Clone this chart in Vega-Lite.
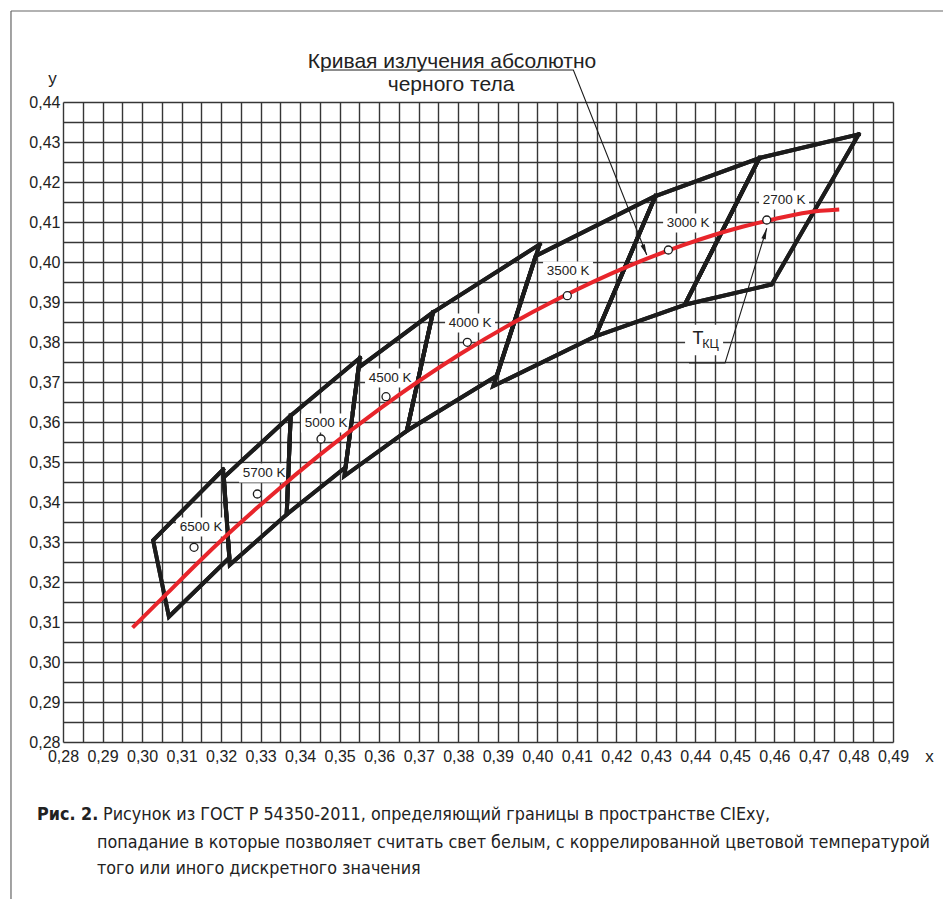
{
  "$schema": "https://vega.github.io/schema/vega-lite/v6.json",
  "width": 830,
  "height": 640,
  "autosize": {"type": "none"},
  "padding": {"left": 63, "top": 102, "right": 50, "bottom": 157},
  "background": "white",
  "config": {
    "view": {"stroke": null},
    "font": "Liberation Sans",
    "text": {"font": "Liberation Sans"},
    "axis": {"grid": true, "gridColor": "#363636", "gridWidth": 1.4, "gridOpacity": 1, "domain": false, "ticks": false,
      "labelFontSize": 16, "labelFont": "Liberation Sans", "labelColor": "#222", "labelOverlap": false, "labelFlush": false,
      "titleFont": "Liberation Sans", "titleFontSize": 17, "titleFontWeight": "normal", "titleColor": "#222"},
    "axisX": {"tickCount": 42, "labelPadding": 6},
    "axisY": {"tickCount": 32, "labelPadding": 3}
  },
  "datasets": {
    "quads": [
      {"quad": "2700", "i": 0, "x": 0.4813, "y": 0.4319}, {"quad": "2700", "i": 1, "x": 0.4562, "y": 0.4260}, {"quad": "2700", "i": 2, "x": 0.4373, "y": 0.3893}, {"quad": "2700", "i": 3, "x": 0.4593, "y": 0.3944}, {"quad": "2700", "i": 4, "x": 0.4813, "y": 0.4319},
      {"quad": "3000", "i": 0, "x": 0.4562, "y": 0.4260}, {"quad": "3000", "i": 1, "x": 0.4299, "y": 0.4165}, {"quad": "3000", "i": 2, "x": 0.4147, "y": 0.3814}, {"quad": "3000", "i": 3, "x": 0.4373, "y": 0.3893}, {"quad": "3000", "i": 4, "x": 0.4562, "y": 0.4260},
      {"quad": "3500", "i": 0, "x": 0.4299, "y": 0.4165}, {"quad": "3500", "i": 1, "x": 0.3996, "y": 0.4015}, {"quad": "3500", "i": 2, "x": 0.3889, "y": 0.3690}, {"quad": "3500", "i": 3, "x": 0.4147, "y": 0.3814}, {"quad": "3500", "i": 4, "x": 0.4299, "y": 0.4165},
      {"quad": "4000", "i": 0, "x": 0.4006, "y": 0.4044}, {"quad": "4000", "i": 1, "x": 0.3736, "y": 0.3874}, {"quad": "4000", "i": 2, "x": 0.3670, "y": 0.3578}, {"quad": "4000", "i": 3, "x": 0.3898, "y": 0.3716}, {"quad": "4000", "i": 4, "x": 0.4006, "y": 0.4044},
      {"quad": "4500", "i": 0, "x": 0.3736, "y": 0.3874}, {"quad": "4500", "i": 1, "x": 0.3548, "y": 0.3736}, {"quad": "4500", "i": 2, "x": 0.3512, "y": 0.3465}, {"quad": "4500", "i": 3, "x": 0.3670, "y": 0.3578}, {"quad": "4500", "i": 4, "x": 0.3736, "y": 0.3874},
      {"quad": "5000", "i": 0, "x": 0.3551, "y": 0.3760}, {"quad": "5000", "i": 1, "x": 0.3376, "y": 0.3616}, {"quad": "5000", "i": 2, "x": 0.3366, "y": 0.3369}, {"quad": "5000", "i": 3, "x": 0.3515, "y": 0.3487}, {"quad": "5000", "i": 4, "x": 0.3551, "y": 0.3760},
      {"quad": "5700", "i": 0, "x": 0.3376, "y": 0.3616}, {"quad": "5700", "i": 1, "x": 0.3207, "y": 0.3462}, {"quad": "5700", "i": 2, "x": 0.3222, "y": 0.3243}, {"quad": "5700", "i": 3, "x": 0.3366, "y": 0.3369}, {"quad": "5700", "i": 4, "x": 0.3376, "y": 0.3616},
      {"quad": "6500", "i": 0, "x": 0.3205, "y": 0.3481}, {"quad": "6500", "i": 1, "x": 0.3028, "y": 0.3304}, {"quad": "6500", "i": 2, "x": 0.3068, "y": 0.3113}, {"quad": "6500", "i": 3, "x": 0.3221, "y": 0.3261}, {"quad": "6500", "i": 4, "x": 0.3205, "y": 0.3481}
    ],
    "locus": [
      {"x": 0.2976, "y": 0.3086}, {"x": 0.3064, "y": 0.3172}, {"x": 0.3135, "y": 0.3242}, {"x": 0.3221, "y": 0.3323},
      {"x": 0.3324, "y": 0.3414}, {"x": 0.3451, "y": 0.3519}, {"x": 0.3608, "y": 0.3638}, {"x": 0.3805, "y": 0.3770},
      {"x": 0.4053, "y": 0.3908}, {"x": 0.4234, "y": 0.3991}, {"x": 0.4369, "y": 0.4042}, {"x": 0.4519, "y": 0.4088},
      {"x": 0.4599, "y": 0.4107}, {"x": 0.4683, "y": 0.4124}, {"x": 0.4764, "y": 0.4131}
    ],
    "centers": [
      {"cct": "6500 K", "x": 0.31315, "y": 0.32867, "lx": 0.31492, "ly": 0.33375},
      {"cct": "5700 K", "x": 0.32917, "y": 0.342, "lx": 0.33086, "ly": 0.34725},
      {"cct": "5000 K", "x": 0.34528, "y": 0.35575, "lx": 0.34655, "ly": 0.35975},
      {"cct": "4500 K", "x": 0.36173, "y": 0.36633, "lx": 0.36274, "ly": 0.371},
      {"cct": "4000 K", "x": 0.3823, "y": 0.37992, "lx": 0.38299, "ly": 0.38475},
      {"cct": "3500 K", "x": 0.4076, "y": 0.39158, "lx": 0.40778, "ly": 0.39775},
      {"cct": "3000 K", "x": 0.43317, "y": 0.403, "lx": 0.43815, "ly": 0.40975},
      {"cct": "2700 K", "x": 0.45806, "y": 0.4105, "lx": 0.46244, "ly": 0.4155}
    ],
    "leaders": [
      {"id": "curve", "i": 0, "x": 0.34546, "y": 0.448}, {"id": "curve", "i": 1, "x": 0.40913, "y": 0.448}, {"id": "curve", "i": 2, "x": 0.4277, "y": 0.40175},
      {"id": "tkc", "i": 0, "x": 0.4384, "y": 0.37475}, {"id": "tkc", "i": 1, "x": 0.44751, "y": 0.37475}, {"id": "tkc", "i": 2, "x": 0.45806, "y": 0.40843}
    ],
    "one": [{}]
  },
  "layer": [
    {
      "data": {"name": "quads"},
      "mark": {"type": "line", "color": "#1c1c1c", "strokeWidth": 4, "strokeJoin": "miter", "strokeCap": "square"},
      "encoding": {
        "x": {"field": "x", "type": "quantitative", "scale": {"domain": [0.28, 0.49], "nice": false, "zero": false},
          "axis": {"labelExpr": "round(datum.value*1000) % 10 == 0 ? replace(format(datum.value, '.2f'), '.', ',') : ''",
            "title": "x", "titleX": 866, "titleY": 14, "titleAlign": "center", "titleBaseline": "middle"}},
        "y": {"field": "y", "type": "quantitative", "scale": {"domain": [0.28, 0.44], "nice": false, "zero": false},
          "axis": {"labelExpr": "round(datum.value*1000) % 10 == 0 ? replace(format(datum.value, '.2f'), '.', ',') : ''",
            "title": "y", "titleAngle": 0, "titleX": -11, "titleY": -24, "titleAlign": "center", "titleBaseline": "middle"}},
        "detail": {"field": "quad"},
        "order": {"field": "i"}
      }
    },
    {
      "data": {"name": "one"},
      "mark": {"type": "rule", "color": "#666", "strokeWidth": 1.2},
      "encoding": {
        "x": {"datum": 0.26684, "type": "quantitative"},
        "y": {"datum": 0.46275, "type": "quantitative"},
        "y2": {"datum": 0.24075}
      }
    },
    {
      "data": {"name": "one"},
      "mark": {"type": "rule", "color": "#666", "strokeWidth": 1.2},
      "encoding": {
        "y": {"datum": 0.46275, "type": "quantitative"},
        "x": {"datum": 0.26684, "type": "quantitative"},
        "x2": {"datum": 0.50267}
      }
    },
    {
      "data": {"name": "centers"},
      "mark": {"type": "point", "shape": "M-1.3,-0.5H1.3V0.5H-1.3Z", "size": 1475, "filled": true, "fill": "white", "opacity": 1, "strokeWidth": 0},
      "encoding": {
        "x": {"field": "lx", "type": "quantitative"},
        "y": {"field": "ly", "type": "quantitative"}
      }
    },
    {
      "data": {"name": "one"},
      "mark": {"type": "point", "shape": "M-1,-0.8H1V0.8H-1Z", "size": 1444, "filled": true, "fill": "white", "opacity": 1, "strokeWidth": 0},
      "encoding": {
        "x": {"datum": 0.4422, "type": "quantitative"},
        "y": {"datum": 0.3805, "type": "quantitative"}
      }
    },
    {
      "data": {"name": "quads"},
      "mark": {"type": "line", "color": "#1c1c1c", "strokeWidth": 4, "strokeJoin": "miter", "strokeCap": "square"},
      "encoding": {
        "x": {"field": "x", "type": "quantitative"},
        "y": {"field": "y", "type": "quantitative"},
        "detail": {"field": "quad"},
        "order": {"field": "i"}
      }
    },
    {
      "data": {"name": "locus"},
      "mark": {"type": "line", "color": "#e8252b", "strokeWidth": 4, "interpolate": "monotone"},
      "encoding": {
        "x": {"field": "x", "type": "quantitative"},
        "y": {"field": "y", "type": "quantitative"}
      }
    },
    {
      "data": {"name": "centers"},
      "mark": {"type": "point", "shape": "circle", "size": 64, "filled": true, "fill": "white", "stroke": "#1c1c1c", "strokeWidth": 1.3, "opacity": 1},
      "encoding": {
        "x": {"field": "x", "type": "quantitative"},
        "y": {"field": "y", "type": "quantitative"}
      }
    },
    {
      "data": {"name": "centers"},
      "mark": {"type": "text", "fontSize": 13.5, "color": "#222", "align": "center", "baseline": "middle"},
      "encoding": {
        "x": {"field": "lx", "type": "quantitative"},
        "y": {"field": "ly", "type": "quantitative"},
        "text": {"field": "cct"}
      }
    },
    {
      "data": {"name": "leaders"},
      "mark": {"type": "line", "color": "#1c1c1c", "strokeWidth": 1.1},
      "encoding": {
        "x": {"field": "x", "type": "quantitative"},
        "y": {"field": "y", "type": "quantitative"},
        "detail": {"field": "id"},
        "order": {"field": "i"}
      }
    },
    {
      "data": {"name": "leaders"},
      "transform": [{"filter": "datum.id == 'curve' && datum.i == 2"}],
      "mark": {"type": "point", "shape": "M0,0L-0.45,2.2L0.45,2.2Z", "size": 100, "angle": 158, "filled": true, "color": "#1c1c1c", "opacity": 1},
      "encoding": {
        "x": {"field": "x", "type": "quantitative"},
        "y": {"field": "y", "type": "quantitative"}
      }
    },
    {
      "data": {"name": "leaders"},
      "transform": [{"filter": "datum.id == 'tkc' && datum.i == 2"}],
      "mark": {"type": "point", "shape": "M0,0L-0.45,2.2L0.45,2.2Z", "size": 100, "angle": 17, "filled": true, "color": "#1c1c1c", "opacity": 1},
      "encoding": {
        "x": {"field": "x", "type": "quantitative"},
        "y": {"field": "y", "type": "quantitative"}
      }
    },
    {
      "data": {"name": "one"},
      "mark": {"type": "text", "text": "Т", "fontSize": 18, "color": "#222", "align": "center", "baseline": "middle"},
      "encoding": {
        "x": {"datum": 0.44068, "type": "quantitative"},
        "y": {"datum": 0.38075, "type": "quantitative"}
      }
    },
    {
      "data": {"name": "one"},
      "mark": {"type": "text", "text": "КЦ", "fontSize": 12.5, "color": "#222", "align": "center", "baseline": "middle"},
      "encoding": {
        "x": {"datum": 0.44384, "type": "quantitative"},
        "y": {"datum": 0.3795, "type": "quantitative"}
      }
    },
    {
      "data": {"name": "one"},
      "mark": {"type": "text", "text": "Кривая излучения абсолютно", "fontSize": 21, "color": "#222", "align": "center", "baseline": "middle"},
      "encoding": {
        "x": {"datum": 0.37843, "type": "quantitative"},
        "y": {"datum": 0.45008, "type": "quantitative"}
      }
    },
    {
      "data": {"name": "one"},
      "mark": {"type": "text", "text": "черного тела", "fontSize": 21, "color": "#222", "align": "center", "baseline": "middle"},
      "encoding": {
        "x": {"datum": 0.37818, "type": "quantitative"},
        "y": {"datum": 0.44425, "type": "quantitative"}
      }
    },
    {
      "data": {"name": "one"},
      "mark": {"type": "text", "text": "Рис. 2.", "font": "DejaVu Sans Condensed", "fontWeight": "bold", "fontSize": 17.8, "color": "#222", "align": "left", "baseline": "middle"},
      "encoding": {
        "x": {"datum": 0.27342, "type": "quantitative"},
        "y": {"datum": 0.26175, "type": "quantitative"}
      }
    },
    {
      "data": {"name": "one"},
      "mark": {"type": "text", "text": "Рисунок из ГОСТ Р 54350-2011, определяющий границы в пространстве CIExy,", "font": "DejaVu Sans Condensed", "fontSize": 17.8, "color": "#222", "align": "left", "baseline": "middle"},
      "encoding": {
        "x": {"datum": 0.29013, "type": "quantitative"},
        "y": {"datum": 0.26175, "type": "quantitative"}
      }
    },
    {
      "data": {"name": "one"},
      "mark": {"type": "text", "text": "попадание в которые позволяет считать свет белым, с коррелированной цветовой температурой", "font": "DejaVu Sans Condensed", "fontSize": 17.8, "color": "#222", "align": "left", "baseline": "middle"},
      "encoding": {
        "x": {"datum": 0.2886, "type": "quantitative"},
        "y": {"datum": 0.25475, "type": "quantitative"}
      }
    },
    {
      "data": {"name": "one"},
      "mark": {"type": "text", "text": "того или иного дискретного значения", "font": "DejaVu Sans Condensed", "fontSize": 17.8, "color": "#222", "align": "left", "baseline": "middle"},
      "encoding": {
        "x": {"datum": 0.2886, "type": "quantitative"},
        "y": {"datum": 0.24825, "type": "quantitative"}
      }
    }
  ]
}
